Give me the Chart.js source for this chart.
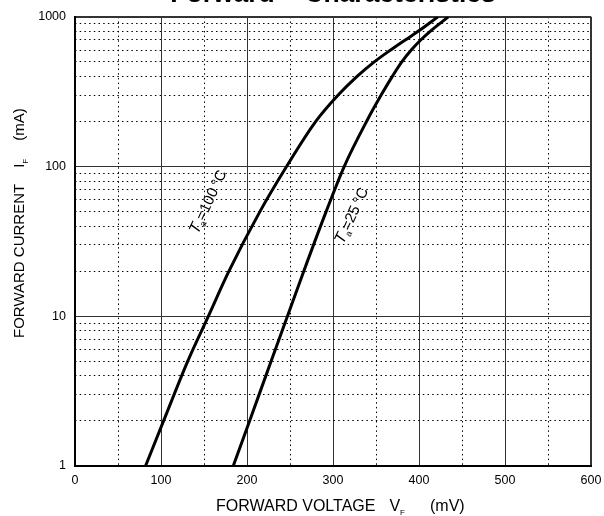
<!DOCTYPE html>
<html>
<head>
<meta charset="utf-8">
<script src="https://cdn.jsdelivr.net/npm/chart.js@4/dist/chart.umd.min.js"></script>
<style>
  html, body { margin: 0; padding: 0; background: #fff; }
  #wrap { width: 604px; height: 516px; }
</style>
</head>
<body>
<div id="wrap"><canvas id="fwdChart" width="604" height="516"></canvas></div>
<script>
// Forward current (mA) vs forward voltage (mV)
const current100 = [1, 2, 5, 10, 20, 50, 100, 200, 300, 400, 500, 600, 700, 800, 1000];
const voltage100 = [82, 103, 131, 155, 179, 215, 246, 280, 306, 328, 348, 367, 384, 399, 422];
const current25 = [1, 2, 5, 10, 20, 50, 100, 200, 300, 400, 500, 600, 700, 800, 1000];
const voltage25 = [184, 203, 228, 247, 266, 292, 313, 339, 356, 369, 380, 391, 402, 413, 434];

// tick values
const xMajorTicks = [0, 100, 200, 300, 400, 500, 600];
const xMinorTicks = [50, 150, 250, 350, 450, 550];
const yMajorTicks = [1, 10, 100, 1000];
const yMinorTicks = [2, 3, 4, 5, 6, 7, 8, 9, 20, 30, 40, 50, 60, 70, 80, 90, 200, 300, 400, 500, 600, 700, 800, 900];

const FONT = "'Liberation Sans', Arial, sans-serif";

function toPoints(xs, ys) {
    return xs.map((v, i) => ({ x: v, y: ys[i] }));
}

// draw a run of text pieces (for subscripts) starting at x, baseline y
function drawParts(ctx, parts, x, y) {
    ctx.textBaseline = 'alphabetic';
    ctx.textAlign = 'left';
    parts.forEach(p => {
        if (p.gap) { x += p.gap; return; }
        ctx.font = p.font;
        ctx.fillText(p.text, x, y + (p.dy || 0));
        x += ctx.measureText(p.text).width;
    });
}

const curveLabels = [
    { x: 143, y: 35, parts: [
        { text: 'T', font: 'italic 16px ' + FONT },
        { text: 'a', font: '9px ' + FONT, dy: 3 },
        { text: '=100\u2009°C', font: '15px ' + FONT }
    ] },
    { x: 312, y: 30, parts: [
        { text: 'T', font: 'italic 16px ' + FONT },
        { text: 'a', font: '9px ' + FONT, dy: 3 },
        { text: '=25\u2009°C', font: '15px ' + FONT }
    ] }
];

const textPlugin = {
    id: 'textPlugin',
    afterDraw(chart) {
        const ctx = chart.ctx;
        const xs = chart.scales.x, ys = chart.scales.y;
        ctx.save();
        ctx.fillStyle = '#000';

        // curve labels, rotated along the curves
        curveLabels.forEach(l => {
            ctx.save();
            ctx.translate(xs.getPixelForValue(l.x), ys.getPixelForValue(l.y));
            ctx.rotate(-65 * Math.PI / 180);
            drawParts(ctx, l.parts, 0, 0);
            ctx.restore();
        });

        // x axis title
        drawParts(ctx, [
            { text: 'FORWARD VOLTAGE', font: '16px ' + FONT },
            { gap: 14 },
            { text: 'V', font: '16px ' + FONT },
            { text: 'F', font: '8px ' + FONT, dy: 4 },
            { gap: 25 },
            { text: '(mV)', font: '16px ' + FONT }
        ], 216, 511);

        // y axis title
        ctx.save();
        ctx.translate(24, 338);
        ctx.rotate(-Math.PI / 2);
        drawParts(ctx, [
            { text: 'FORWARD CURRENT', font: '15px ' + FONT },
            { gap: 16 },
            { text: 'I', font: '15px ' + FONT },
            { text: 'F', font: '8px ' + FONT, dy: 4 },
            { gap: 18 },
            { text: '(mA)', font: '15px ' + FONT }
        ], 0, 0);
        ctx.restore();

        ctx.restore();
    }
};

const ctx = document.getElementById('fwdChart').getContext('2d');
new Chart(ctx, {
    type: 'scatter',
    data: {
        datasets: [
            {
                label: 'Ta=100°C',
                data: toPoints(voltage100, current100),
                showLine: true,
                borderColor: '#000',
                borderWidth: 3,
                pointRadius: 0,
                cubicInterpolationMode: 'monotone'
            },
            {
                label: 'Ta=25°C',
                data: toPoints(voltage25, current25),
                showLine: true,
                borderColor: '#000',
                borderWidth: 3,
                pointRadius: 0,
                cubicInterpolationMode: 'monotone'
            }
        ]
    },
    options: {
        responsive: false,
        animation: false,
        events: [],
        layout: { padding: { left: 0, right: 13, top: 0, bottom: 0 } },
        plugins: {
            legend: { display: false },
            tooltip: { enabled: false },
            title: {
                display: true,
                text: 'Forward \u2013 Characteristics',
                color: '#000',
                font: { family: FONT, size: 26.5, weight: 'bold' },
                padding: { top: -21, bottom: 6 },
                fullSize: false
            }
        },
        scales: {
            x: {
                type: 'linear',
                position: 'bottom',
                min: 0,
                max: 600,
                afterBuildTicks: s => { s.ticks = xMajorTicks.map(v => ({ value: v })); },
                afterFit: s => { s.height = 50; s.paddingLeft = 0; s.paddingRight = 0; },
                ticks: { color: '#000', font: { family: FONT, size: 12.5 }, padding: 7, maxRotation: 0 },
                grid: {
                    color: '#333',
                    lineWidth: c => (c.tick && c.tick.value === 600) ? 2 : 1,
                    drawTicks: false
                },
                border: { color: '#000', width: 2 }
            },
            x2: {
                type: 'linear',
                position: 'bottom',
                min: 0,
                max: 600,
                afterBuildTicks: s => { s.ticks = xMinorTicks.map(v => ({ value: v })); },
                afterFit: s => { s.height = 0; s.paddingLeft = 0; s.paddingRight = 0; },
                ticks: { display: false },
                grid: { color: '#000', lineWidth: 1, drawTicks: false },
                border: { display: false, dash: [1.5, 3.2] }
            },
            y: {
                type: 'logarithmic',
                position: 'left',
                min: 1,
                max: 1000,
                afterBuildTicks: s => { s.ticks = yMajorTicks.map(v => ({ value: v })); },
                afterFit: s => { s.width = 75; },
                ticks: { color: '#000', font: { family: FONT, size: 12.5 }, padding: 9, callback: v => String(v) },
                grid: {
                    color: '#333',
                    lineWidth: c => (c.tick && c.tick.value === 1000) ? 2 : 1,
                    drawTicks: false
                },
                border: { color: '#000', width: 2 }
            },
            y2: {
                type: 'logarithmic',
                position: 'left',
                min: 1,
                max: 1000,
                afterBuildTicks: s => { s.ticks = yMinorTicks.map(v => ({ value: v })); },
                afterFit: s => { s.width = 0; },
                ticks: { display: false },
                grid: { color: '#000', lineWidth: 1, drawTicks: false },
                border: { display: false, dash: [1.5, 3.2] }
            }
        }
    },
    plugins: [textPlugin]
});
</script>
</body>
</html>
